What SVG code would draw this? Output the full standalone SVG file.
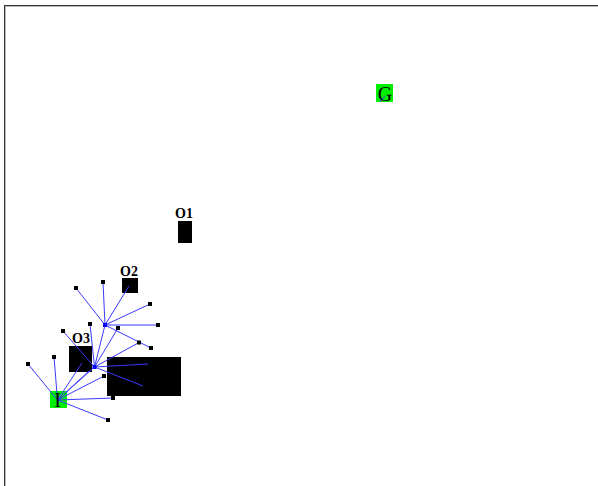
<svg xmlns="http://www.w3.org/2000/svg" width="598" height="486" viewBox="0 0 598 486">
<style>
.obs{fill:#000}
.lbl{font-family:"Liberation Serif",serif;font-weight:bold;font-size:14px;text-anchor:middle;fill:#000}
.big{font-family:"Liberation Serif",serif;font-size:20px;text-anchor:middle;fill:#000}
.term{fill:#00ee00}
.pt{fill:#000}
.hub{fill:#0000ff}
.edges line{stroke:#3a3aff;stroke-width:1}
</style>
<rect width="598" height="486" fill="#fff"/>
<rect x="4.5" y="5.5" width="700" height="600" fill="none" stroke="#333" stroke-width="1"/>
<polyline points="5.5,486 5.5,6.5 598,6.5" fill="none" stroke="#bbb" stroke-width="1"/>

<g id="O1"><rect class="obs" x="178" y="221" width="14" height="22"/><text class="lbl" x="184" y="218">O1</text></g>
<g id="O2"><rect class="obs" x="122" y="278" width="16" height="15"/><text class="lbl" x="129" y="276">O2</text></g>
<g id="O3"><rect class="obs" x="69" y="346" width="23" height="26"/><text class="lbl" x="81" y="343">O3</text></g>
<g id="O4"><rect class="obs" x="107" y="357" width="74" height="39"/></g>
<g id="G"><rect class="term" x="376" y="84" width="17" height="18"/></g>
<g id="I"><rect class="term" x="50" y="391" width="17" height="17"/></g>

<g id="connectors" class="edges">
<line x1="105" y1="325" x2="76" y2="288"/>
<line x1="105" y1="325" x2="103" y2="282"/>
<line x1="105" y1="325" x2="129" y2="286"/>
<line x1="105" y1="325" x2="150" y2="304"/>
<line x1="105" y1="325" x2="158" y2="325"/>
<line x1="105" y1="325" x2="151" y2="348"/>
<line x1="94.5" y1="367" x2="105" y2="325"/>
<line x1="94.5" y1="367" x2="90" y2="324"/>
<line x1="94.5" y1="367" x2="63" y2="331"/>
<line x1="94.5" y1="367" x2="118" y2="328"/>
<line x1="94.5" y1="367" x2="139" y2="342.5"/>
<line x1="94.5" y1="367" x2="148" y2="364"/>
<line x1="94.5" y1="367" x2="143" y2="386"/>
<line x1="57.5" y1="400" x2="28" y2="364"/>
<line x1="57.5" y1="400" x2="54" y2="357"/>
<line x1="57.5" y1="400" x2="82" y2="363"/>
<line x1="57.5" y1="400" x2="89" y2="371"/>
<line x1="57.5" y1="400" x2="94.5" y2="367"/>
<line x1="57.5" y1="400" x2="104" y2="376"/>
<line x1="57.5" y1="400" x2="113" y2="398"/>
<line x1="57.5" y1="400" x2="108" y2="420"/>
<line x1="380" y1="102" x2="385" y2="96"/>
</g>

<g id="points">
<rect class="pt" x="74" y="286" width="4" height="4"/>
<rect class="pt" x="101" y="280" width="4" height="4"/>
<rect class="pt" x="148" y="302" width="4" height="4"/>
<rect class="pt" x="156" y="323" width="4" height="4"/>
<rect class="pt" x="116" y="326" width="4" height="4"/>
<rect class="pt" x="137" y="340.5" width="4" height="4"/>
<rect class="pt" x="149" y="346" width="4" height="4"/>
<rect class="pt" x="88" y="322" width="4" height="4"/>
<rect class="pt" x="61" y="329" width="4" height="4"/>
<rect class="pt" x="26" y="362" width="4" height="4"/>
<rect class="pt" x="52" y="355" width="4" height="4"/>
<rect class="pt" x="102" y="374" width="4" height="4"/>
<rect class="pt" x="111" y="396" width="4" height="4"/>
<rect class="pt" x="106" y="418" width="4" height="4"/>
<rect class="hub" x="103" y="323" width="4" height="4"/>
<rect class="hub" x="92.5" y="365" width="4" height="4"/>
</g>

<text class="big" x="385" y="101">G</text>
<text class="big" x="57.5" y="407">I</text>
</svg>
